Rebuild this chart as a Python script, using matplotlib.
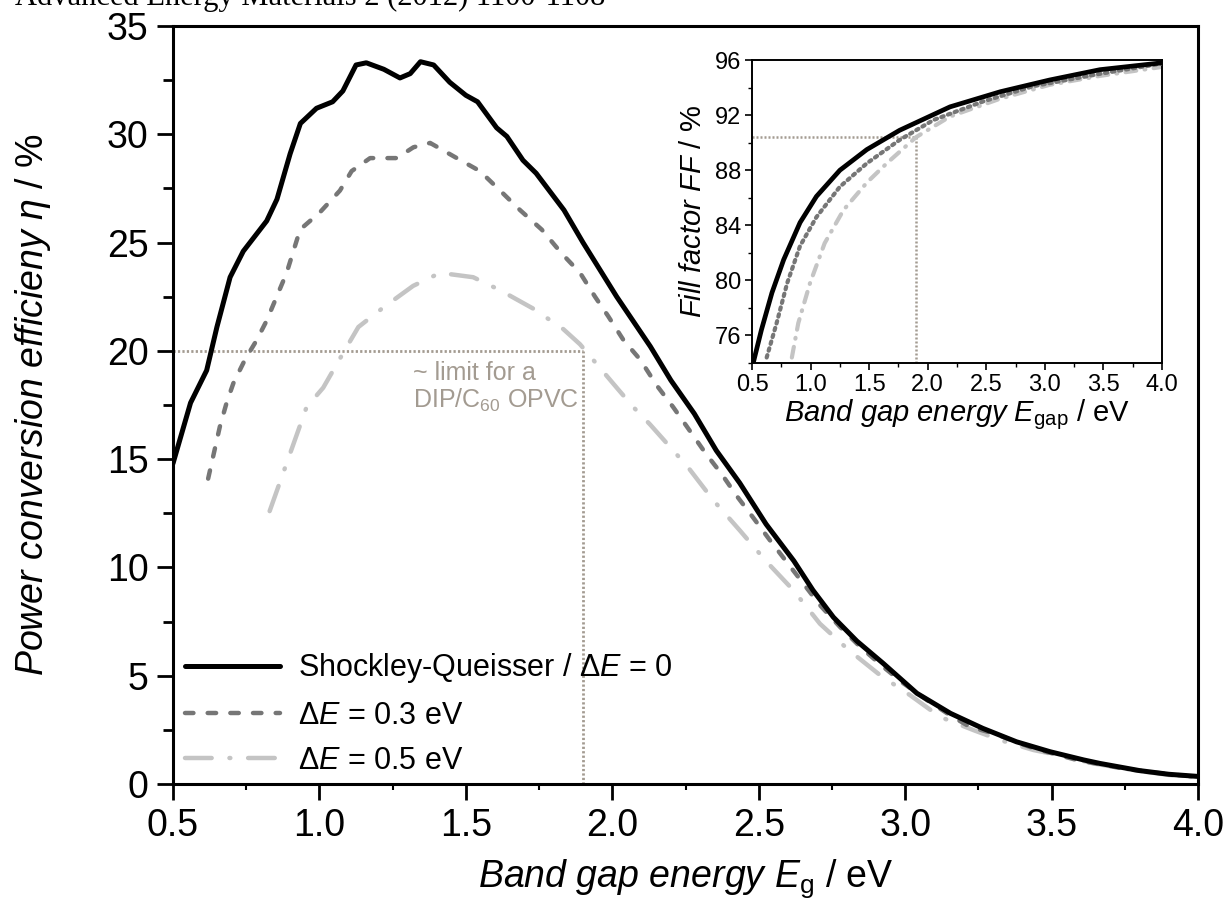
import numpy as np
import matplotlib
matplotlib.use('Agg')
import matplotlib.pyplot as plt
from matplotlib.ticker import MultipleLocator

plt.rcParams['font.family'] = ['Liberation Sans', 'DejaVu Sans']
plt.rcParams['mathtext.fontset'] = 'custom'
plt.rcParams['mathtext.rm'] = 'Liberation Sans'
plt.rcParams['mathtext.it'] = 'Liberation Sans:italic'
plt.rcParams['mathtext.bf'] = 'Liberation Sans:bold'

##### main panel: power conversion efficiency vs band gap
x_sq = [0.50, 0.56, 0.615, 0.65, 0.695, 0.74, 0.82, 0.855, 0.90, 0.935, 0.99, 1.045, 1.08,
        1.125, 1.16, 1.22, 1.275, 1.31, 1.345, 1.39, 1.445, 1.50, 1.54, 1.605, 1.64, 1.695,
        1.74, 1.835, 1.90, 2.015, 2.13, 2.20, 2.28, 2.355, 2.435, 2.525, 2.62, 2.685, 2.755,
        2.835, 2.925, 3.04, 3.155, 3.265, 3.38, 3.495, 3.61, 3.665, 3.80, 3.90, 4.00]
y_sq = [14.8, 17.6, 19.1, 21.1, 23.4, 24.6, 26.0, 27.0, 29.1, 30.5, 31.2, 31.5, 32.0,
        33.2, 33.3, 33.0, 32.6, 32.8, 33.35, 33.2, 32.4, 31.8, 31.5, 30.3, 29.9, 28.8,
        28.2, 26.5, 25.0, 22.5, 20.2, 18.64, 17.1, 15.4, 13.9, 12.0, 10.3, 8.95, 7.7,
        6.6, 5.57, 4.19, 3.26, 2.57, 1.95, 1.49, 1.11, 0.95, 0.62, 0.45, 0.35]

x_03 = [0.62, 0.66, 0.683, 0.706, 0.746, 0.786, 0.82, 0.854, 0.888, 0.911, 0.934, 1.002,
        1.07, 1.11, 1.173, 1.264, 1.321, 1.378, 1.469, 1.548, 1.617, 1.685, 1.759, 1.827,
        1.89, 1.941, 1.986, 2.038, 2.095, 2.152, 2.208, 2.26, 2.317, 2.374, 2.425, 2.481,
        2.538, 2.595, 2.652, 2.709, 2.777, 2.846, 2.925, 2.994, 3.074, 3.153, 3.221, 3.301,
        3.438, 3.586, 3.75, 3.90, 4.00]
y_03 = [14.1, 16.5, 17.6, 18.5, 19.6, 20.5, 21.4, 22.5, 23.6, 24.6, 25.6, 26.4,
        27.4, 28.3, 28.9, 28.9, 29.4, 29.6, 28.9, 28.3, 27.4, 26.5, 25.6, 24.5,
        23.6, 22.5, 21.6, 20.5, 19.6, 18.4, 17.4, 16.4, 15.3, 14.3, 13.3, 12.3,
        11.26, 10.26, 9.26, 8.26, 7.26, 6.34, 5.41, 4.65, 3.88, 3.18, 2.64, 2.34,
        1.65, 1.11, 0.70, 0.45, 0.33]

x_05 = [0.83, 0.956, 1.013, 1.081, 1.133, 1.218, 1.32, 1.412, 1.469, 1.525, 1.617, 1.73,
        1.833, 1.89, 2.015, 2.072, 2.129, 2.208, 2.26, 2.345, 2.436, 2.527, 2.618, 2.709,
        2.806, 2.914, 3.017, 3.119, 3.233, 3.324, 3.438, 3.551, 3.642, 3.80, 3.90, 4.00]
y_05 = [12.6, 17.4, 18.3, 19.9, 21.1, 22.0, 23.0, 23.6, 23.5, 23.4, 22.8, 21.95,
        21.0, 20.3, 18.3, 17.4, 16.6, 15.4, 14.6, 13.1, 11.7, 10.26, 8.95, 7.4,
        6.2, 5.03, 4.1, 3.1, 2.49, 2.03, 1.57, 1.26, 0.95, 0.60, 0.42, 0.30]

legend_labels = [r'Shockley-Queisser / $\Delta\mathit{E}$ = 0',
                 r'$\Delta\mathit{E}$ = 0.3 eV',
                 r'$\Delta\mathit{E}$ = 0.5 eV']

##### inset: fill factor vs band gap
x_ff_sq = [0.51, 0.58, 0.67, 0.77, 0.91, 1.05, 1.25, 1.48, 1.76, 2.19, 2.62, 3.04, 3.47, 4.0]
y_ff_sq = [74.0, 76.4, 79.1, 81.5, 84.2, 86.1, 88.0, 89.5, 90.9, 92.6, 93.7, 94.55, 95.3, 95.8]
x_ff_03 = [0.625, 0.71, 0.80, 0.91, 1.05, 1.25, 1.48, 1.76, 2.05, 2.475, 2.90, 3.47, 4.0]
y_ff_03 = [74.4, 76.9, 79.8, 82.5, 84.6, 86.8, 88.5, 90.2, 91.65, 93.0, 94.1, 95.0, 95.75]
x_ff_05 = [0.84, 0.895, 0.995, 1.12, 1.28, 1.48, 1.65, 1.90, 2.19, 2.62, 3.04, 3.47, 4.0]
y_ff_05 = [74.4, 76.9, 79.8, 82.7, 85.1, 87.1, 88.5, 90.4, 91.9, 93.2, 94.2, 94.85, 95.5]

# DIP/C60 limit markers
limit_gap = 1.9
limit_eff = 20.0
limit_ff = 90.4

black = '#000000'
dark_gray = '#767676'
light_gray = '#c4c4c4'
note_color = '#a39b91'

fig = plt.figure(figsize=(12.26, 8.99), dpi=100)
ax = fig.add_axes([0.1411, 0.1279, 0.8361, 0.8432])

ax.plot([0.5, limit_gap], [limit_eff, limit_eff], color=note_color, lw=2.0,
        linestyle=(0, (0.8, 0.8)), zorder=1)
ax.plot([limit_gap, limit_gap], [0, limit_eff], color=note_color, lw=2.0,
        linestyle=(0, (0.8, 0.8)), zorder=1)

ax.plot(x_sq, y_sq, color=black, lw=3.6, solid_capstyle='round', solid_joinstyle='round',
        label=legend_labels[0], zorder=4)
ax.plot(x_03, y_03, color=dark_gray, lw=3.2, dash_capstyle='round',
        linestyle=(0, (1.9, 3.2)), label=legend_labels[1], zorder=3)
ax.plot(x_05, y_05, color=light_gray, lw=3.2, dash_capstyle='round',
        linestyle=(0, (6.0, 4.0, 0.2, 4.0)), label=legend_labels[2], zorder=2)

ax.text(1.32, 18.3, '~ limit for a\nDIP/C$_{60}$ OPVC', color=note_color, fontsize=18,
        ha='left', va='center', linespacing=1.1)

ax.set_xlim(0.5, 4.0)
ax.set_ylim(0, 35)
ax.xaxis.set_major_locator(MultipleLocator(0.5))
ax.xaxis.set_minor_locator(MultipleLocator(0.25))
ax.yaxis.set_major_locator(MultipleLocator(5))
ax.yaxis.set_minor_locator(MultipleLocator(2.5))
ax.xaxis.set_major_formatter(matplotlib.ticker.FormatStrFormatter('%.1f'))
ax.tick_params(axis='both', which='major', direction='out', length=11.5, width=2.0,
               labelsize=27, pad=6)
ax.tick_params(axis='y', which='minor', direction='out', length=7, width=2.0)
ax.tick_params(axis='x', which='minor', direction='out', length=4, width=1.5)
for sp in ax.spines.values():
    sp.set_linewidth(2.2)

ax.set_xlabel(r'$\mathit{Band\ gap\ energy\ E}_\mathrm{g}$ / eV', fontsize=27)
ax.set_ylabel(r'$\mathit{Power\ conversion\ efficieny\ \eta}$ / %', fontsize=27)
ax.xaxis.set_label_coords(0.5, -0.097)
ax.yaxis.set_label_coords(-0.117, 0.5)

leg = ax.legend(loc='lower left', bbox_to_anchor=(0.0117, 0.0106), frameon=False,
                fontsize=22, handlelength=3.1, handletextpad=0.6, labelspacing=0.5,
                borderpad=0, borderaxespad=0)

##### inset
axi = fig.add_axes([0.6134, 0.5962, 0.3344, 0.337])
axi.plot([0.5, limit_gap], [limit_ff, limit_ff], color=note_color, lw=1.8,
         linestyle=(0, (0.8, 0.8)), zorder=1)
axi.plot([limit_gap, limit_gap], [74, limit_ff], color=note_color, lw=1.8,
         linestyle=(0, (0.8, 0.8)), zorder=1)
axi.plot(x_ff_05, y_ff_05, color=light_gray, lw=3.0, dash_capstyle='round',
         linestyle=(0, (2.6, 2.0, 0.2, 2.0)), zorder=2)
axi.plot(x_ff_03, y_ff_03, color=dark_gray, lw=3.0, dash_capstyle='round',
         linestyle=(0, (0.6, 1.1)), zorder=3)
axi.plot(x_ff_sq, y_ff_sq, color=black, lw=3.4, solid_capstyle='round', zorder=4)

axi.set_xlim(0.5, 4.0)
axi.set_ylim(74, 96)
axi.xaxis.set_major_locator(MultipleLocator(0.5))
axi.xaxis.set_minor_locator(MultipleLocator(0.25))
axi.yaxis.set_major_locator(MultipleLocator(4))
axi.yaxis.set_minor_locator(MultipleLocator(2))
axi.xaxis.set_major_formatter(matplotlib.ticker.FormatStrFormatter('%.1f'))
axi.tick_params(axis='both', which='major', direction='out', length=5, width=1.2,
                labelsize=17, pad=3)
axi.tick_params(axis='both', which='minor', direction='out', length=3, width=1.0)
for sp in axi.spines.values():
    sp.set_linewidth(1.4)
axi.set_xlabel(r'$\mathit{Band\ gap\ energy\ E}_\mathrm{gap}$ / eV', fontsize=21)
axi.set_ylabel(r'$\mathit{Fill\ factor\ FF}$ / %', fontsize=21)
axi.xaxis.set_label_coords(0.5, -0.115)
axi.yaxis.set_label_coords(-0.11, 0.5)

# journal reference, cut at the top edge as in the scan
fig.text(0.012, 0.9944, 'Advanced Energy Materials 2 (2012) 1100-1108', family='Liberation Serif',
         fontsize=22, ha='left', va='baseline')

fig.savefig('out.png', dpi=100)
